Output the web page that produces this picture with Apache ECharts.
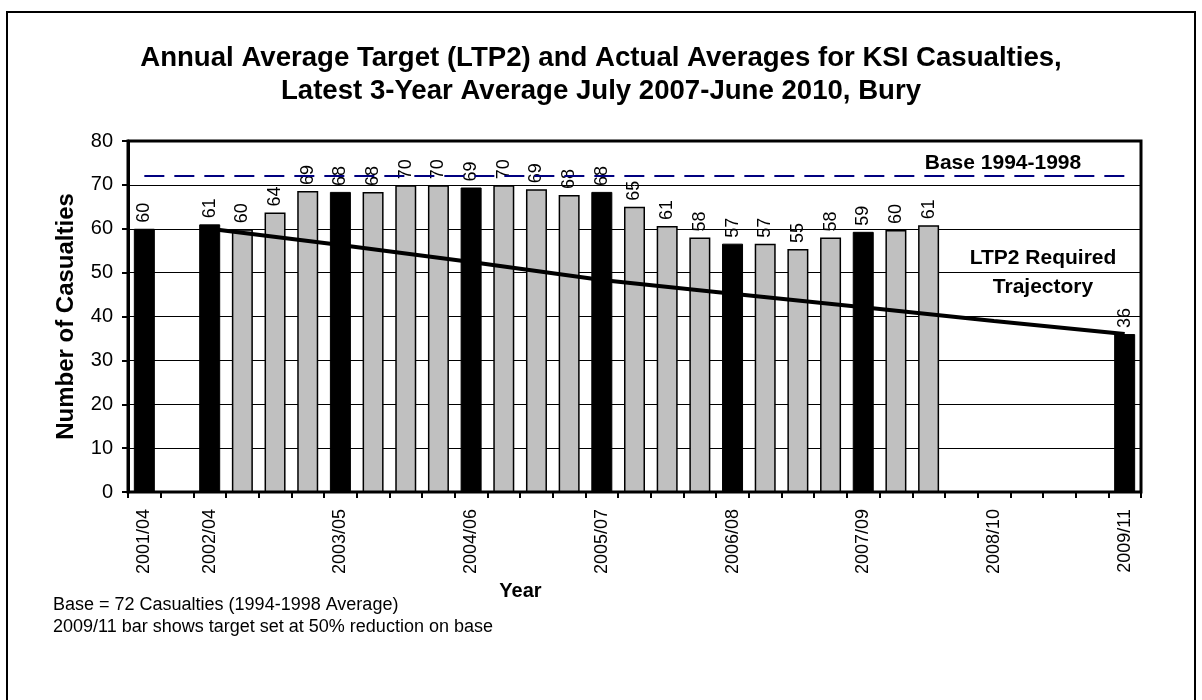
<!DOCTYPE html>
<html>
<head>
<meta charset="utf-8">
<script src="https://cdn.jsdelivr.net/npm/echarts@6/dist/echarts.min.js"></script>
<style>
html, body { margin: 0; padding: 0; background: #fff; }
#box { width: 1202px; height: 700px; }
</style>
</head>
<body>
<div id="box"></div>
<script>
// x categories: one slot per quarter, labels only on the annual points
var categories = ['2001/04', '', '2002/04', '', '', '', '2003/05', '', '', '', '2004/06', '', '', '',
    '2005/07', '', '', '', '2006/08', '', '', '', '2007/09', '', '', '', '2008/10', '', '', '', '2009/11'];

// black bars (financial year averages + target)
var annualValues = [60.0, null, 61.0, null, null, null, 68.4, null, null, null, 69.4, null, null, null,
    68.4, null, null, null, 56.6, null, null, null, 59.3, null, null, null, null, null, null, null, 36.0];

// grey bars (rolling 3-year averages)
var rollingValues = [null, null, null, 59.9, 63.7, 68.6, null, 68.4, 69.9, 69.9, null, 69.9, 69.0, 67.7,
    null, 65.0, 60.6, 58.0, null, 56.6, 55.4, 58.0, null, 59.7, 60.8, null, null, null, null, null, null];

// LTP2 required trajectory
var trajectory = [null, null, 60.0, null, null, null, 56.3, null, null, null, 52.4, null, null, null,
    48.3, null, null, null, 45.2, null, null, null, 42.1, null, null, null, 39.0, null, null, null, 36.0];

// base 1994-1998 average
var baseValues = [72, 72, 72, 72, 72, 72, 72, 72, 72, 72, 72, 72, 72, 72, 72, 72,
    72, 72, 72, 72, 72, 72, 72, 72, 72, 72, 72, 72, 72, 72, 72];

var yTicks = [0, 10, 20, 30, 40, 50, 60, 70, 80];

var font = 'Liberation Sans, Arial, sans-serif';

var myChart = echarts.init(document.getElementById('box'));

var barLabel = {
    show: true,
    position: 'top',
    rotate: 90,
    align: 'left',
    verticalAlign: 'middle',
    distance: 6,
    fontSize: 18,
    fontFamily: font,
    color: '#000',
    formatter: function (p) {
        return Math.round(p.value);
    }
};

var option = {
    animation: false,
    backgroundColor: '#fff',
    title: {
        text: 'Annual Average Target (LTP2) and Actual Averages for KSI Casualties,\nLatest 3-Year Average July 2007-June 2010, Bury',
        left: 'center',
        top: 37,
        textStyle: {
            fontFamily: font,
            fontSize: 27.6,
            fontWeight: 'bold',
            color: '#000',
            lineHeight: 33
        }
    },
    grid: {
        left: 128,
        right: 61,
        top: 141,
        bottom: 208,
        show: true,
        borderColor: '#000',
        borderWidth: 3
    },
    xAxis: {
        type: 'category',
        data: categories,
        name: 'Year',
        nameLocation: 'middle',
        nameGap: 86,
        nameTextStyle: {
            fontFamily: font, fontSize: 20, fontWeight: 'bold', color: '#000',
            padding: [0, 228, 0, 0]
        },
        axisLine: { show: true, lineStyle: { color: '#000', width: 2 } },
        axisTick: { show: true, interval: 0, length: 6, lineStyle: { color: '#000', width: 2 } },
        axisLabel: {
            interval: 0,
            rotate: 90,
            margin: 17,
            fontFamily: font,
            fontSize: 18,
            color: '#000'
        }
    },
    yAxis: {
        type: 'value',
        min: yTicks[0],
        max: yTicks[yTicks.length - 1],
        interval: 10,
        name: 'Number of Casualties',
        nameLocation: 'middle',
        nameGap: 50,
        nameTextStyle: { fontFamily: font, fontSize: 24, fontWeight: 'bold', color: '#000' },
        axisLine: { show: true, lineStyle: { color: '#000', width: 3 } },
        axisTick: { show: true, length: 6, lineStyle: { color: '#000', width: 2 } },
        axisLabel: { fontFamily: font, fontSize: 20, color: '#000', margin: 15 },
        splitLine: { show: true, lineStyle: { color: '#000', width: 1 } }
    },
    series: [{
        name: 'Annual',
        type: 'bar',
        data: annualValues,
        barWidth: 21,
        barGap: '-100%',
        itemStyle: { color: '#000', borderColor: '#000', borderWidth: 1 },
        label: barLabel,
        z: 2
    }, {
        name: 'Rolling',
        type: 'bar',
        data: rollingValues,
        barWidth: 21,
        barGap: '-100%',
        itemStyle: { color: '#c0c0c0', borderColor: '#000', borderWidth: 1.5 },
        label: barLabel,
        z: 2
    }, {
        name: 'Base',
        type: 'line',
        data: baseValues,
        symbol: 'none',
        lineStyle: { color: '#000080', width: 2, type: [20, 10] },
        z: 4
    }, {
        name: 'LTP2',
        type: 'line',
        data: trajectory,
        connectNulls: true,
        symbol: 'none',
        lineStyle: { color: '#000', width: 4 },
        z: 5
    }],
    graphic: [{
        type: 'rect',
        shape: { x: 7, y: 12, width: 1188, height: 700 },
        style: { fill: null, stroke: '#000', lineWidth: 2 },
        silent: true
    }, {
        type: 'text',
        x: 1003,
        y: 163,
        style: {
            text: 'Base 1994-1998',
            font: 'bold 21px ' + font,
            fill: '#000',
            textAlign: 'center',
            textVerticalAlign: 'middle'
        }
    }, {
        type: 'text',
        x: 1043,
        y: 273,
        style: {
            text: 'LTP2 Required\nTrajectory',
            font: 'bold 21px ' + font,
            fill: '#000',
            textAlign: 'center',
            textVerticalAlign: 'middle',
            lineHeight: 29
        }
    }, {
        type: 'text',
        x: 53,
        y: 616,
        style: {
            text: 'Base = 72 Casualties (1994-1998 Average)\n2009/11 bar shows target set at 50% reduction on base',
            font: '18px ' + font,
            fill: '#000',
            textAlign: 'left',
            textVerticalAlign: 'middle',
            lineHeight: 22
        }
    }]
};

myChart.setOption(option);
</script>
</body>
</html>
